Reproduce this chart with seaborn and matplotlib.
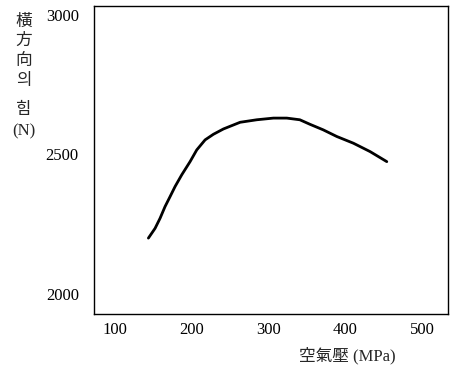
import matplotlib
matplotlib.use("Agg")
import matplotlib.pyplot as plt
import seaborn as sns
import pandas as pd

pressure = [143.4, 152.1, 158.6, 165.1, 171.7, 178.2, 186.9, 197.7, 206.4, 217.3, 228.1, 241.1,
            262.9, 284.6, 306.3, 323.7, 340.7, 353.7, 371.1, 388.9, 410.5, 432.2, 454.0]
force = [2200, 2235, 2271, 2313, 2349, 2385, 2427, 2474, 2516, 2552, 2572, 2591,
         2615, 2624, 2630, 2630, 2624, 2608, 2588, 2564, 2540, 2510, 2474]
x_ticks = [100, 200, 300, 400, 500]
y_ticks = [2000, 2500, 3000]
x_label = "空氣壓 (MPa)"
y_label_parts = ["橫", "方", "向", "의", "힘", "(N)"]

sns.set_theme(style="white")
plt.rcParams['font.family'] = ['Liberation Serif', 'Noto Sans CJK KR', 'DejaVu Sans']

df = pd.DataFrame({"p": pressure, "f": force})
fig = plt.figure(figsize=(4.5, 3.69), dpi=100)
ax = fig.add_axes([0.209, 0.149, 0.787, 0.835])
sns.lineplot(data=df, x="p", y="f", ax=ax, color="black", linewidth=2.0, sort=False)
ax.lines[0].set_solid_capstyle('round')
ax.lines[0].set_solid_joinstyle('round')

ax.set_xlim(72.6, 534)
ax.set_ylim(1928, 3032)
ax.set_xticks(x_ticks)
ax.set_yticks(y_ticks)
ax.set_xticklabels([str(v) for v in x_ticks], fontsize=12, family='Liberation Serif')
ax.set_yticklabels([str(v) for v in y_ticks], fontsize=12, family='Liberation Serif')
ax.tick_params(axis='both', length=0, pad=6, colors='black')
ax.tick_params(axis='y', pad=11)
ax.set_xlabel("")
ax.set_ylabel("")
for s in ax.spines.values():
    s.set_color("black")
    s.set_linewidth(1.0)
    s.set_visible(True)

fig.text(347 / 450, 1 - 356 / 369, x_label, ha='center', va='center', fontsize=12,
         family=['Liberation Serif', 'Noto Sans CJK KR'])
y_pos = [22, 41, 61, 81, 110, 131]
for part, yp in zip(y_label_parts, y_pos):
    fig.text(24 / 450, 1 - yp / 369, part, ha='center', va='center', fontsize=12,
             family=['Liberation Serif', 'Noto Sans CJK KR'])

fig.savefig("out.png", dpi=100)
